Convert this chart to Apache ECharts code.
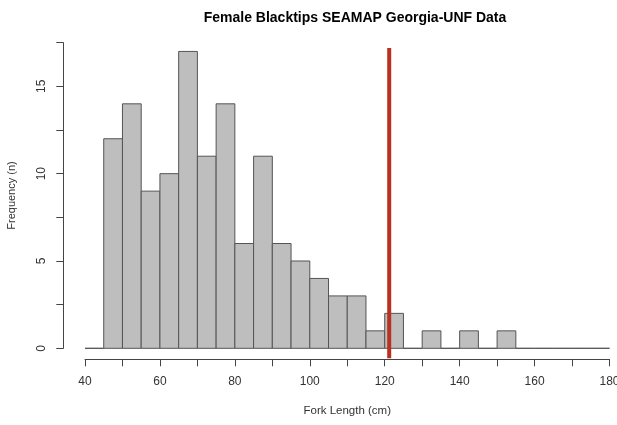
<!DOCTYPE html>
<html>
<head>
<meta charset="utf-8">
<script src="https://cdn.jsdelivr.net/npm/echarts@6/dist/echarts.min.js"></script>
<style>
html,body{margin:0;padding:0;background:#fff;}
#chart{width:617px;height:425px;}
</style>
</head>
<body>
<div id="chart"></div>
<script>
// Histogram bins (left edge, cm) and counts
const binStarts = [40,45,50,55,60,65,70,75,80,85,90,95,100,105,110,115,120,125,130,135,140,145,150,155,160,165,170,175];
const counts    = [0,12,14,9,10,17,11,14,6,11,6,5,4,3,3,1,2,0,1,0,1,0,1,0,0,0,0,0];
const binWidth = 5;
// Vertical reference line (cm) and its vertical extent
const refLineX = 121.2;
const refLineRange = [-0.57, 17.2];
// Axis ticks
const xTicks = [40,50,60,70,80,90,100,110,120,130,140,150,160,170,180];
const yTicks = [0,2.5,5,7.5,10,12.5,15,17.5];

const chart = echarts.init(document.getElementById('chart'));
const font = 'Liberation Sans, Arial, sans-serif';

chart.setOption({
  animation: false,
  title: {
    text: 'Female Blacktips SEAMAP Georgia-UNF Data',
    left: 350, top: 6, textAlign: 'center',
    textStyle: {fontFamily: font, fontSize: 14, fontWeight: 'bold', color: '#000'}
  },
  grid: {left: 85, right: 7.5, top: 42.7, bottom: 76.7, outerBoundsMode: 'none', containLabel: false},
  xAxis: {
    type: 'value', min: xTicks[0], max: xTicks[xTicks.length-1], interval: 10,
    offset: 11,
    splitLine: {show: false},
    axisLine: {show: true, onZero: false, lineStyle: {color: '#444', width: 1}},
    axisTick: {show: true, length: 7, lineStyle: {color: '#444'}},
    axisLabel: {
      fontFamily: font, fontSize: 12, color: '#333', margin: 16,
      formatter: v => (v % 20 === 0 ? String(v) : '')
    },
    name: 'Fork Length (cm)', nameLocation: 'middle', nameGap: 46,
    nameTextStyle: {fontFamily: font, fontSize: 11.5, color: '#333'}
  },
  yAxis: {
    type: 'value', min: yTicks[0], max: yTicks[yTicks.length-1], interval: 2.5,
    offset: 21.7,
    splitLine: {show: false},
    axisLine: {show: true, onZero: false, lineStyle: {color: '#444', width: 1}},
    axisTick: {show: true, length: 7, lineStyle: {color: '#444'}},
    axisLabel: {
      fontFamily: font, fontSize: 12, color: '#333', margin: 16, rotate: 90,
      formatter: v => (v % 5 === 0 ? String(v) : '')
    },
    name: 'Frequency (n)', nameLocation: 'middle', nameGap: 46, nameRotate: 90,
    nameTextStyle: {fontFamily: font, fontSize: 11, color: '#333'}
  },
  series: [
    {
      type: 'custom',
      data: binStarts.map((b, i) => [b, counts[i]]),
      clip: false,
      renderItem: function (params, api) {
        const x0 = api.value(0), y = api.value(1);
        const p0 = api.coord([x0, 0]);
        const p1 = api.coord([x0 + binWidth, y]);
        return {
          type: 'rect',
          shape: {x: p0[0], y: p1[1], width: p1[0] - p0[0], height: p0[1] - p1[1]},
          style: {fill: '#bebebe', stroke: '#555', lineWidth: 1}
        };
      }
    },
    {
      type: 'custom',
      data: [[refLineX, refLineRange[0], refLineRange[1]]],
      clip: false,
      z: 5,
      renderItem: function (params, api) {
        const a = api.coord([api.value(0), api.value(1)]);
        const b = api.coord([api.value(0), api.value(2)]);
        return {
          type: 'line',
          shape: {x1: a[0], y1: a[1], x2: b[0], y2: b[1]},
          style: {stroke: '#b8321f', lineWidth: 4}
        };
      }
    }
  ]
});
</script>
</body>
</html>
